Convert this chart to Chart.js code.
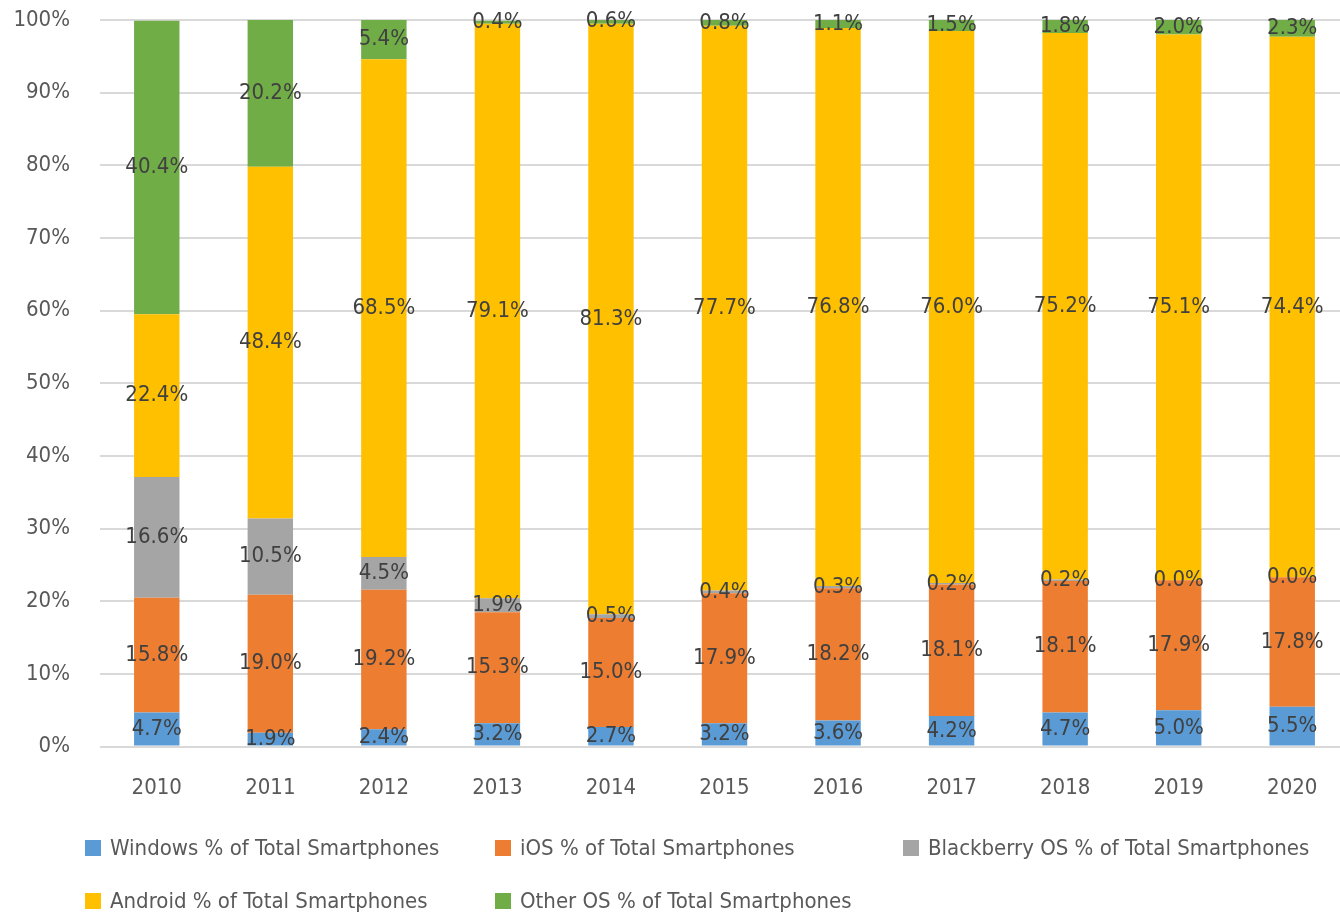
<!DOCTYPE html>
<html>
<head>
<meta charset="utf-8">
<script src="https://cdn.jsdelivr.net/npm/chart.js@4"></script>
<style>
  html, body { margin: 0; padding: 0; background: #fff; overflow: hidden; }
  #wrap { position: relative; width: 1340px; height: 919px; overflow: hidden; }
  #chart { position: absolute; left: 0; top: 0; }
  #legend { position: absolute; left: 0; top: 0; width: 1340px; height: 919px; pointer-events: none;
            font-family: "DejaVu Sans Condensed", sans-serif; font-size: 22px; color: #595959; }
  .item { position: absolute; white-space: nowrap; line-height: 30px; }
  .item span.box { display: inline-block; width: 16px; height: 16px; margin-right: 9px; vertical-align: -1px; }
</style>
</head>
<body>
<div id="wrap">
  <canvas id="chart" width="1349" height="919"></canvas>
  <div id="legend"></div>
</div>
<script>
// Smartphone OS share, 100% stacked
const years = ['2010', '2011', '2012', '2013', '2014', '2015', '2016', '2017', '2018', '2019', '2020'];

const windowsShare    = [4.7, 1.9, 2.4, 3.2, 2.7, 3.2, 3.6, 4.2, 4.7, 5.0, 5.5];
const iosShare        = [15.8, 19.0, 19.2, 15.3, 15.0, 17.9, 18.2, 18.1, 18.1, 17.9, 17.8];
const blackberryShare = [16.6, 10.5, 4.5, 1.9, 0.5, 0.4, 0.3, 0.2, 0.2, 0.0, 0.0];
const androidShare    = [22.4, 48.4, 68.5, 79.1, 81.3, 77.7, 76.8, 76.0, 75.2, 75.1, 74.4];
const otherShare      = [40.4, 20.2, 5.4, 0.4, 0.6, 0.8, 1.1, 1.5, 1.8, 2.0, 2.3];

const seriesNames = [
    'Windows % of Total Smartphones',
    'iOS % of Total Smartphones',
    'Blackberry OS % of Total Smartphones',
    'Android % of Total Smartphones',
    'Other OS % of Total Smartphones'
];
const seriesValues = [windowsShare, iosShare, blackberryShare, androidShare, otherShare];
const COLORS = ['#5b9bd5', '#ed7d31', '#a5a5a5', '#ffc000', '#70ad47'];

const FONT = '"DejaVu Sans Condensed", sans-serif';

// draw value label in the middle of every segment
const segmentLabels = {
    id: 'segmentLabels',
    afterDatasetsDraw(chart) {
        const ctx = chart.ctx;
        ctx.save();
        ctx.font = '22px ' + FONT;
        ctx.fillStyle = '#404040';
        ctx.textAlign = 'center';
        ctx.textBaseline = 'middle';
        chart.data.datasets.forEach((ds, i) => {
            const meta = chart.getDatasetMeta(i);
            meta.data.forEach((bar, j) => {
                const y = (bar.y + bar.base) / 2;
                ctx.fillText(ds.data[j].toFixed(1) + '%', bar.x, y);
            });
        });
        ctx.restore();
    }
};

const datasets = seriesNames.map((name, i) => ({
    label: name,
    data: seriesValues[i],
    backgroundColor: COLORS[i],
    borderWidth: 0,
    barPercentage: 0.4,
    categoryPercentage: 1.0
}));

const chart = new Chart(document.getElementById('chart').getContext('2d'), {
    type: 'bar',
    data: { labels: years, datasets: datasets },
    plugins: [segmentLabels],
    options: {
        responsive: false,
        animation: false,
        layout: { padding: { left: 0, top: 20, right: 0, bottom: 98 } },
        plugins: {
            legend: { display: false },
            tooltip: { enabled: false }
        },
        scales: {
            x: {
                stacked: true,
                grid: { display: false },
                border: { display: false },
                ticks: { color: '#595959', font: { family: FONT, size: 22 }, padding: 20 }
            },
            y: {
                stacked: true,
                min: 0,
                max: 100,
                border: { display: false },
                grid: { color: '#d9d9d9', lineWidth: 2, drawTicks: false },
                ticks: {
                    stepSize: 10,
                    color: '#595959',
                    font: { family: FONT, size: 22 },
                    padding: 30,
                    callback: v => v + '%'
                },
                afterFit: scale => {
                    scale.width = 100;
                    // tick padding should not push the plot down
                    scale.paddingTop = 12;
                    scale.paddingBottom = 0;
                }
            }
        }
    }
});

// legend laid out as a grid like the original
const legendPos = [[85, 833], [495, 833], [903, 833], [85, 886], [495, 886]];
const legend = document.getElementById('legend');
chart.data.datasets.forEach((ds, i) => {
    const item = document.createElement('div');
    item.className = 'item';
    item.style.left = legendPos[i][0] + 'px';
    item.style.top = legendPos[i][1] + 'px';
    item.innerHTML = '<span class="box" style="background:' + ds.backgroundColor + '"></span>' + ds.label;
    legend.appendChild(item);
});
</script>
</body>
</html>
